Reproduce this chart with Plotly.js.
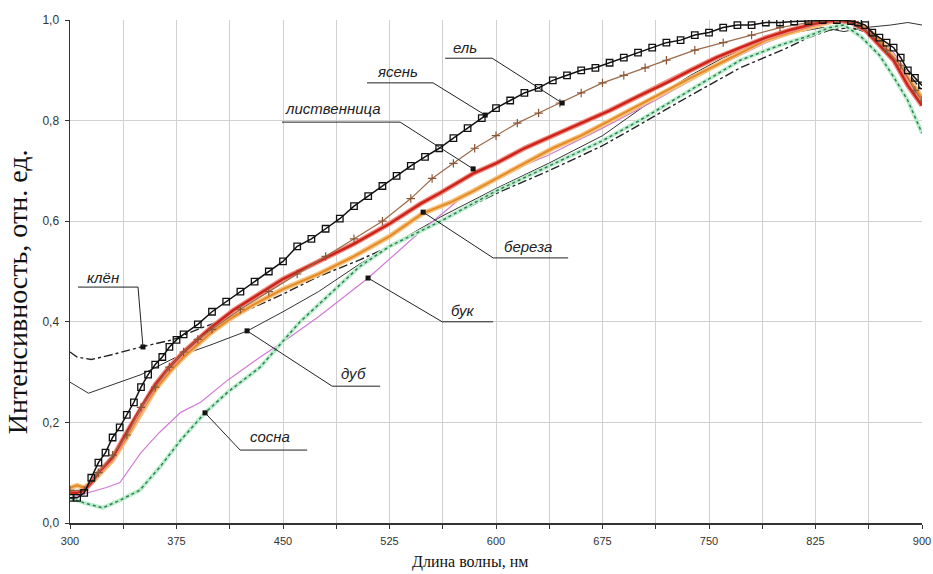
<!DOCTYPE html>
<html><head><meta charset="utf-8">
<script src="https://cdn.plot.ly/plotly-3.0.1.min.js"></script>
<style>html,body{margin:0;padding:0;background:#fff}#chart{width:933px;height:574px}</style>
</head><body><div id="chart"></div>
<script>
// ---- data (wavelength, nm / relative intensity) ----
const yasenX = [300,305,310,315,320,325,330,335,340,345,350,355,360,365,370,375,380,390,400,410,420,430,440,450,460,470,480,490,500,510,520,530,540,550,560,570,580,590,600,610,620,630,640,650,660,670,680,690,700,710,720,730,740,750,760,770,780,790,800,810,820,830,840,850,855,860,865,870,875,880,885,890,895,900];
const yasenY = [0.05,0.05,0.06,0.09,0.12,0.14,0.17,0.19,0.215,0.24,0.27,0.295,0.315,0.33,0.35,0.364,0.375,0.395,0.42,0.44,0.46,0.48,0.50,0.52,0.55,0.565,0.585,0.605,0.63,0.65,0.67,0.69,0.71,0.728,0.745,0.765,0.785,0.805,0.825,0.84,0.855,0.865,0.88,0.89,0.90,0.905,0.915,0.925,0.935,0.945,0.955,0.96,0.97,0.975,0.985,0.99,0.99,0.995,0.995,0.997,0.998,1.0,1.0,0.998,0.995,0.99,0.975,0.965,0.955,0.945,0.925,0.90,0.885,0.87];

const elX = [300,310,320,330,340,350,360,370,380,390,400,420,440,460,480,500,520,540,555,570,585,600,615,630,645,660,675,690,705,720,740,760,780,800,820,840,855,865,875,885,895,900];
const elY = [0.065,0.065,0.10,0.135,0.175,0.23,0.27,0.31,0.34,0.365,0.385,0.425,0.46,0.495,0.53,0.565,0.60,0.645,0.685,0.715,0.745,0.77,0.795,0.815,0.835,0.855,0.875,0.89,0.905,0.92,0.94,0.955,0.97,0.985,0.995,1.0,0.99,0.97,0.94,0.91,0.86,0.84];

const listvX = [300,305,310,315,320,325,330,340,350,360,370,380,390,400,415,430,450,475,500,525,547,560,584,600,620,640,660,680,700,720,737,755,772,790,807,825,840,850,860,870,880,890,900];
const listvY = [0.06,0.06,0.065,0.08,0.10,0.115,0.13,0.18,0.23,0.275,0.31,0.34,0.365,0.39,0.423,0.45,0.485,0.52,0.555,0.595,0.635,0.655,0.695,0.715,0.745,0.77,0.795,0.82,0.848,0.875,0.90,0.925,0.945,0.965,0.98,0.993,1.0,0.995,0.98,0.95,0.92,0.87,0.83];

const berezaX = [300,305,310,315,320,330,340,350,360,370,380,390,400,415,430,450,475,500,525,548,570,584,600,620,640,660,680,700,720,737,755,772,790,807,825,840,850,860,870,880,890,900];
const berezaY = [0.07,0.075,0.07,0.08,0.095,0.125,0.17,0.22,0.265,0.30,0.33,0.355,0.38,0.41,0.435,0.465,0.495,0.53,0.57,0.615,0.64,0.66,0.685,0.715,0.745,0.77,0.80,0.83,0.86,0.885,0.91,0.935,0.96,0.975,0.99,1.0,0.998,0.985,0.96,0.925,0.885,0.845];

const bukX = [300,316,325,335,340,350,363,378,392,411,434,450,475,510,547,575,610,636,675,712,750,790,825,845,862,880,900];
const bukY = [0.05,0.062,0.07,0.08,0.10,0.14,0.18,0.22,0.24,0.284,0.33,0.36,0.41,0.487,0.58,0.645,0.70,0.73,0.785,0.84,0.90,0.955,0.99,1.0,0.985,0.935,0.85];

const dubX = [300,306,313,325,350,375,400,425,450,475,504,525,562,600,637,675,700,720,737,760,784,810,830,845,860,878,890,900];
const dubY = [0.28,0.27,0.258,0.27,0.295,0.33,0.355,0.382,0.42,0.46,0.515,0.55,0.61,0.665,0.715,0.77,0.82,0.86,0.89,0.925,0.954,0.975,0.985,0.977,0.985,0.99,0.995,0.99];

const sosnaX = [300,310,323,335,349,363,378,395,411,434,462,485,504,525,547,561,600,637,675,701,737,772,800,819,835,845,857,870,880,890,900];
const sosnaY = [0.05,0.04,0.03,0.045,0.065,0.11,0.165,0.219,0.26,0.31,0.40,0.46,0.51,0.55,0.58,0.60,0.66,0.71,0.76,0.80,0.86,0.92,0.95,0.967,0.985,0.99,0.967,0.93,0.887,0.84,0.775];

const klenX = [300,305,315,330,350,372,390,420,450,475,504,525,547,575,600,637,675,700,737,772,807,819,835,850,862,880,900];
const klenY = [0.34,0.33,0.325,0.335,0.35,0.364,0.385,0.417,0.455,0.49,0.523,0.55,0.58,0.62,0.655,0.70,0.75,0.79,0.85,0.905,0.947,0.964,0.98,0.985,0.975,0.93,0.86];

const xTickVals = [300,375,450,525,600,675,750,825,900];
const xTickText = ['300','375','450','525','600','675','750','825','900'];
const yTickVals = [0,0.2,0.4,0.6,0.8,1.0];
const yTickText = ['0,0','0,2','0,4','0,6','0,8','1,0'];

// labels and leader lines
const labelNames = ['клён','сосна','дуб','бук','береза','лиственница','ясень','ель'];
const labelTextX = [323.2,440.9,499.4,576.9,622.6,485.3,530.4,578.3];
const labelTextY = [0.489,0.171,0.298,0.423,0.549,0.825,0.897,0.946];
const leaderPts = [
  [[305.6,0.469],[347.9,0.469],[351.4,0.35]],
  [[395.1,0.219],[419.8,0.145],[467,0.145]],
  [[424.7,0.382],[484.6,0.272],[518.4,0.272]],
  [[509.9,0.487],[562.1,0.40],[598,0.40]],
  [[548.7,0.618],[598,0.527],[650.8,0.527]],
  [[449.3,0.797],[532.5,0.797],[583.9,0.704]],
  [[509.2,0.875],[555.7,0.875],[592.4,0.811]],
  [[564.2,0.924],[597.3,0.924],[646.6,0.835]]
];
const dotX = [351.4,395.1,424.7,509.9,548.7,583.9,592.4,646.6];
const dotY = [0.35,0.219,0.382,0.487,0.618,0.704,0.811,0.835];

// ---- traces ----
const traces = [
  {x: klenX, y: klenY, mode:'lines', line:{color:'#222', width:1.4, dash:'dashdot'}, name:'клён'},
  {x: dubX, y: dubY, mode:'lines', line:{color:'#333', width:1}, name:'дуб'},
  {x: bukX, y: bukY, mode:'lines', line:{color:'#d27ad6', width:1.2}, name:'бук'},
  {x: sosnaX, y: sosnaY, mode:'lines', line:{color:'#b9ecc8', width:4}, hoverinfo:'skip', showlegend:false},
  {x: sosnaX, y: sosnaY, mode:'lines', line:{color:'#2f7d5a', width:1.5, dash:'dot'}, name:'сосна'},
  {x: berezaX, y: berezaY, mode:'lines', line:{color:'#f6c27a', width:5}, hoverinfo:'skip', showlegend:false},
  {x: berezaX, y: berezaY, mode:'lines', line:{color:'#e38a2a', width:2}, name:'береза'},
  {x: listvX, y: listvY, mode:'lines', line:{color:'#f08a80', width:5}, hoverinfo:'skip', showlegend:false},
  {x: listvX, y: listvY, mode:'lines', line:{color:'#cc2418', width:2.5}, name:'лиственница'},
  {x: elX, y: elY, mode:'lines+markers', line:{color:'#9b6a4a', width:1.2}, marker:{symbol:'cross-thin', size:6, line:{color:'#8a5535', width:1.2}}, name:'ель'},
  {x: yasenX, y: yasenY, mode:'lines+markers', line:{color:'#111', width:1.5}, marker:{symbol:'square-open', size:6.5, color:'#111', line:{width:1.3}}, name:'ясень'},
  {x: dotX, y: dotY, mode:'markers', marker:{symbol:'square', size:5, color:'#111'}, hoverinfo:'skip', showlegend:false}
];

const fontNarrow = 'Liberation Sans Narrow, Liberation Sans, Arial, sans-serif';
const shapes = leaderPts.map(p => ({
  type:'path', xref:'x', yref:'y',
  path: 'M ' + p.map(q => q[0] + ',' + q[1]).join(' L '),
  line:{color:'#222', width:1}
}));
const annotations = labelNames.map((t,i) => ({
  x: labelTextX[i], y: labelTextY[i], xref:'x', yref:'y', text:'<i>'+t+'</i>',
  showarrow:false, font:{family:fontNarrow, size:15, color:'#222'}
}));
annotations.push({xref:'paper', yref:'paper', x:0.469, y:-0.077, yanchor:'middle', text:'Длина волны, нм', showarrow:false,
  font:{family:'Liberation Serif, Times New Roman, serif', size:16, color:'#111'}});
annotations.push({xref:'paper', yref:'paper', x:-0.062, xanchor:'center', y:0.459, textangle:-90, text:'Интенсивность, отн. ед.', showarrow:false,
  font:{family:'Liberation Serif, Times New Roman, serif', size:28, color:'#111'}});

const layout = {
  width:933, height:574,
  margin:{l:70, r:11, t:20, b:51},
  paper_bgcolor:'#fff', plot_bgcolor:'#fff',
  showlegend:false,
  xaxis:{range:[300,900], tickvals:xTickVals, ticktext:xTickText, ticks:'outside', ticklen:4, tickcolor:'#333',
    ticklabelstandoff:3,
    showline:true, linecolor:'#333', linewidth:1.5, showgrid:true, gridcolor:'#d0d0d0', gridwidth:1, zeroline:false,
    minor:{tick0:300, dtick:37.5, showgrid:true, gridcolor:'#d0d0d0', gridwidth:1, ticks:'outside', ticklen:4, tickcolor:'#333'},
    tickfont:{family:fontNarrow, size:11, color:'#333'}},
  yaxis:{range:[0,1.0], tickvals:yTickVals, ticktext:yTickText, ticks:'outside', ticklen:4, tickcolor:'#333',
    ticklabelstandoff:3,
    showline:true, linecolor:'#333', linewidth:1.5, showgrid:true, gridcolor:'#d0d0d0', gridwidth:1, zeroline:false,
    tickfont:{family:fontNarrow, size:12, color:'#333'}},
  shapes: shapes,
  annotations: annotations
};
Plotly.newPlot('chart', traces, layout, {displayModeBar:false, staticPlot:true});
</script></body></html>
